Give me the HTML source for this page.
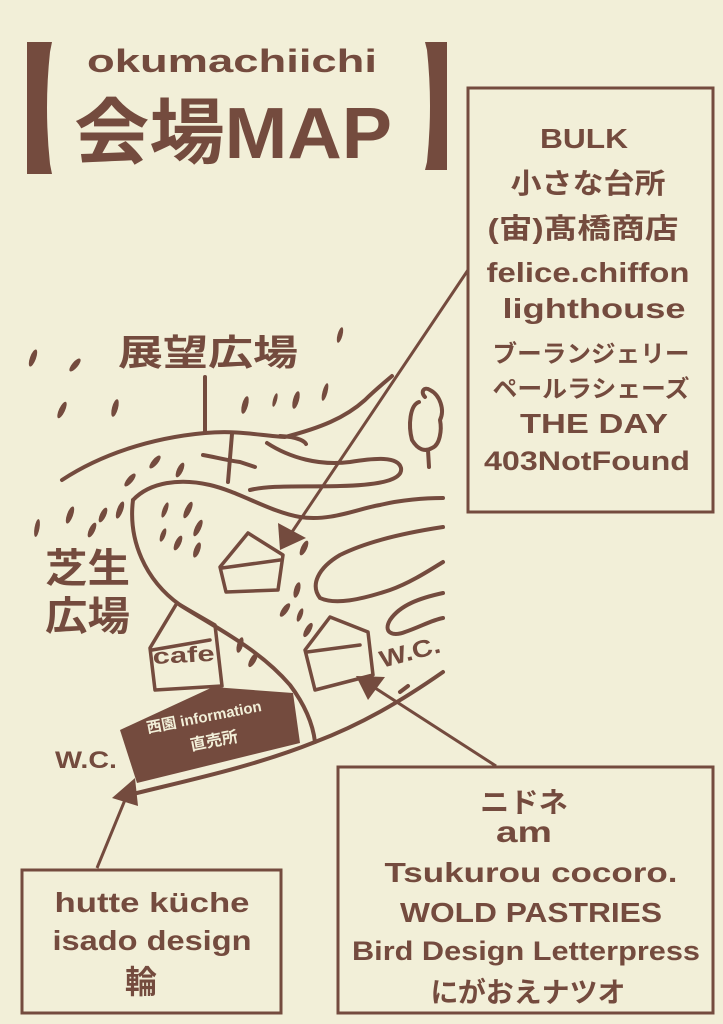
<!DOCTYPE html>
<html><head><meta charset="utf-8"><style>
html,body{margin:0;padding:0;background:#f2efd8;}
svg{display:block;}
text{font-family:"Liberation Sans","Noto Sans CJK JP",sans-serif;font-weight:bold;fill:#744b3e;}
</style></head><body>
<svg width="723" height="1024" viewBox="0 0 723 1024" xmlns="http://www.w3.org/2000/svg">
<rect width="723" height="1024" fill="#f2efd8"/>
<g fill="#744b3e">
<!-- brackets -->
<path d="M27,42 L52,42 L50,52 Q44,108 50,164 L52,174 L27,174 Z"/>
<path d="M425,42 L447,42 L447,170 L425,170 L427,162 Q433,106 427,50 Z"/>
</g>
<text x="232" y="72" font-size="32" text-anchor="middle" textLength="290" lengthAdjust="spacingAndGlyphs">okumachiichi</text>
<text x="233" y="158" font-size="72" text-anchor="middle" textLength="318" lengthAdjust="spacingAndGlyphs">会場MAP</text>

<g fill="none" stroke="#744b3e" stroke-width="3">
<rect x="468" y="88" width="245" height="424"/>
<rect x="338" y="767" width="375" height="246"/>
<rect x="22" y="870" width="259" height="143"/>
</g>

<!-- box1 text -->
<g text-anchor="middle" font-size="28">
<text x="584" y="148" textLength="88" lengthAdjust="spacingAndGlyphs">BULK</text>
<text x="588" y="193" textLength="155" lengthAdjust="spacingAndGlyphs">小さな台所</text>
<text x="583" y="238" textLength="191" lengthAdjust="spacingAndGlyphs">(宙)髙橋商店</text>
<text x="588" y="282" textLength="203" lengthAdjust="spacingAndGlyphs">felice.chiffon</text>
<text x="594" y="318" textLength="183" lengthAdjust="spacingAndGlyphs">lighthouse</text>
<text x="591" y="362" font-size="24" textLength="197" lengthAdjust="spacingAndGlyphs">ブーランジェリー</text>
<text x="591" y="397" font-size="24" textLength="197" lengthAdjust="spacingAndGlyphs">ペールラシェーズ</text>
<text x="594" y="433" textLength="148" lengthAdjust="spacingAndGlyphs">THE DAY</text>
<text x="587" y="470" font-size="27" textLength="206" lengthAdjust="spacingAndGlyphs">403NotFound</text>
</g>
<!-- box2 text -->
<g text-anchor="middle" font-size="28">
<text x="524" y="812" textLength="88" lengthAdjust="spacingAndGlyphs">ニドネ</text>
<text x="524" y="842" font-size="30" textLength="56" lengthAdjust="spacingAndGlyphs">am</text>
<text x="531" y="882" textLength="293" lengthAdjust="spacingAndGlyphs">Tsukurou cocoro.</text>
<text x="531" y="922" textLength="262" lengthAdjust="spacingAndGlyphs">WOLD PASTRIES</text>
<text x="526" y="960" font-size="27" textLength="348" lengthAdjust="spacingAndGlyphs">Bird Design Letterpress</text>
<text x="528" y="1002" textLength="195" lengthAdjust="spacingAndGlyphs">にがおえナツオ</text>
</g>
<!-- box3 text -->
<g text-anchor="middle" font-size="28">
<text x="152" y="912" textLength="195" lengthAdjust="spacingAndGlyphs">hutte küche</text>
<text x="152" y="950" textLength="199" lengthAdjust="spacingAndGlyphs">isado design</text>
<text x="141" y="993" font-size="32">輪</text>
</g>

<!-- map lines -->
<g fill="none" stroke="#744b3e" stroke-width="4" stroke-linecap="round" stroke-linejoin="round">
<!-- top road upper -->
<path d="M62,480 C100,455 150,438 205,433 C240,430 262,436 285,437 C320,428 345,418 365,400 C375,390 385,382 392,376"/>
<path d="M205,377 L205,433"/>
<!-- finger lobe A -->
<path d="M267,443 C290,458 320,466 350,462 C375,458 398,456 401,468 C403,480 380,485 340,486 C300,487 270,485 250,490"/>
<path d="M232,434 L228,482"/>
<path d="M203,455 C215,457 225,460 240,462 L255,467"/>
<path d="M280,436 C300,437 305,442 306,444"/>
<!-- second road upper + S-curve -->
<path d="M133,500 C150,482 180,478 210,485 C240,492 270,512 300,517 C330,522 360,508 380,505 C400,500 425,498 443,498"/>
<path d="M133,500 C128,540 145,580 180,605 C220,630 260,650 290,685 C305,705 313,725 315,742"/>
<!-- finger C -->
<path d="M443,527 C410,532 370,540 340,555 C318,568 310,585 320,598 C335,605 360,600 390,590 C410,583 430,570 443,562"/>
<!-- finger D -->
<path d="M443,593 C420,598 400,605 390,620 C383,632 392,637 405,632 C420,627 432,620 443,618"/>
<!-- bottom road -->
<path d="M125,796 C180,782 250,768 315,742 C360,725 400,702 443,672"/>
<path d="M408,686 L400,692"/>
<!-- tree -->
<path d="M419,402 C410,405 408,425 412,440 C418,450 425,452 432,448 C440,445 442,430 440,420 C445,410 440,395 430,390 C424,386 420,392 425,397"/>
<path d="M428,450 L429,467"/>
<!-- houses -->
<path d="M220,567 L248,533 L283,555 L278,590 L226,592 Z M222,568 L280,560" stroke-width="3.5"/>
<path d="M150,648 L177,603 L215,625 L222,686 L155,690 Z M152,650 L210,640" stroke-width="3.5"/>
<path d="M305,650 L330,617 L368,632 L373,675 L315,690 Z M307,652 L360,645" stroke-width="3.5"/>
</g>

<!-- dashes -->
<g fill="#744b3e">
<ellipse cx="33" cy="358" rx="3" ry="9" transform="rotate(20 33 358)"/>
<ellipse cx="75" cy="365" rx="3" ry="8" transform="rotate(40 75 365)"/>
<ellipse cx="62" cy="410" rx="3" ry="9" transform="rotate(25 62 410)"/>
<ellipse cx="115" cy="408" rx="3" ry="9" transform="rotate(15 115 408)"/>
<ellipse cx="340" cy="335" rx="2.5" ry="8" transform="rotate(15 340 335)"/>
<ellipse cx="245" cy="405" rx="3" ry="9" transform="rotate(15 245 405)"/>
<ellipse cx="275" cy="400" rx="2" ry="7" transform="rotate(15 275 400)"/>
<ellipse cx="296" cy="400" rx="3" ry="9" transform="rotate(15 296 400)"/>
<ellipse cx="325" cy="392" rx="2.5" ry="9" transform="rotate(15 325 392)"/>
<ellipse cx="155" cy="462" rx="3" ry="8" transform="rotate(40 155 462)"/>
<ellipse cx="130" cy="480" rx="3" ry="8" transform="rotate(40 130 480)"/>
<ellipse cx="180" cy="470" rx="3" ry="8" transform="rotate(25 180 470)"/>
<ellipse cx="103" cy="515" rx="3" ry="8" transform="rotate(25 103 515)"/>
<ellipse cx="120" cy="510" rx="3" ry="9" transform="rotate(20 120 510)"/>
<ellipse cx="70" cy="515" rx="3" ry="9" transform="rotate(20 70 515)"/>
<ellipse cx="92" cy="530" rx="3" ry="8" transform="rotate(25 92 530)"/>
<ellipse cx="37" cy="528" rx="2.5" ry="9" transform="rotate(10 37 528)"/>
<ellipse cx="165" cy="510" rx="2.5" ry="8" transform="rotate(20 165 510)"/>
<ellipse cx="188" cy="510" rx="3" ry="9" transform="rotate(25 188 510)"/>
<ellipse cx="163" cy="535" rx="2.5" ry="7" transform="rotate(20 163 535)"/>
<ellipse cx="198" cy="528" rx="3" ry="9" transform="rotate(25 198 528)"/>
<ellipse cx="178" cy="543" rx="3" ry="8" transform="rotate(25 178 543)"/>
<ellipse cx="197" cy="550" rx="3" ry="8" transform="rotate(20 197 550)"/>
<ellipse cx="304" cy="548" rx="3" ry="8" transform="rotate(25 304 548)"/>
<ellipse cx="297" cy="590" rx="3" ry="8" transform="rotate(15 297 590)"/>
<ellipse cx="285" cy="610" rx="3" ry="8" transform="rotate(35 285 610)"/>
<ellipse cx="300" cy="615" rx="2.5" ry="7" transform="rotate(20 300 615)"/>
<ellipse cx="308" cy="630" rx="3" ry="8" transform="rotate(30 308 630)"/>
<ellipse cx="240" cy="645" rx="3" ry="8" transform="rotate(15 240 645)"/>
<ellipse cx="253" cy="660" rx="3" ry="8" transform="rotate(30 253 660)"/>
<!-- info sign -->
<path d="M120,730 L213,687 L293,693 L300,743 L137,783 Z"/>
</g>
<text x="205" y="722" font-size="15" fill="#f2efd8" style="fill:#f2efd8" text-anchor="middle" transform="rotate(-11 205 722)">西園 information</text>
<text x="215" y="746" font-size="16" style="fill:#f2efd8" text-anchor="middle" transform="rotate(-11 215 746)">直売所</text>

<!-- labels -->
<text x="118" y="365" font-size="36" textLength="180" lengthAdjust="spacingAndGlyphs" font-weight="normal">展望広場</text>
<text x="45" y="582" font-size="40" textLength="85" lengthAdjust="spacingAndGlyphs">芝生</text>
<text x="45" y="630" font-size="40" textLength="85" lengthAdjust="spacingAndGlyphs">広場</text>
<text x="153" y="664" font-size="22" textLength="62" lengthAdjust="spacingAndGlyphs" transform="rotate(-3 153 664)">cafe</text>
<text x="55" y="768" font-size="24" textLength="62" lengthAdjust="spacingAndGlyphs">W.C.</text>
<text x="382" y="668" font-size="24" textLength="62" lengthAdjust="spacingAndGlyphs" transform="rotate(-15 382 668)">W.C.</text>

<!-- arrows -->
<g stroke="#744b3e" stroke-width="3" fill="none">
<line x1="468" y1="270" x2="292" y2="532"/>
<line x1="496" y1="766" x2="372" y2="686"/>
<line x1="97" y1="868" x2="127" y2="795"/>
</g>
<g fill="#744b3e">
<polygon points="280,550 278,523 306,538"/>
<polygon points="356,676 385,677 368,700"/>
<polygon points="135,778 138,806 112,798"/>
</g>
</svg>
</body></html>
